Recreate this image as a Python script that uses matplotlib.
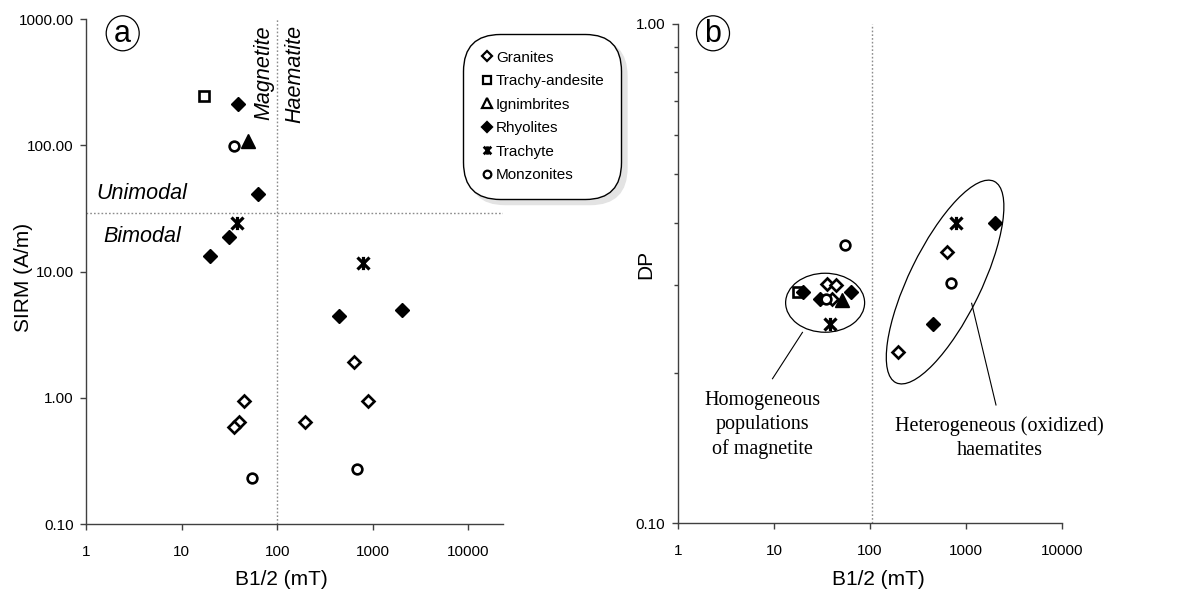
import matplotlib
matplotlib.use('Agg')

import numpy as np
import matplotlib.pyplot as plt
from matplotlib.path import Path
from matplotlib.lines import Line2D
from matplotlib.patches import Ellipse
from matplotlib.transforms import IdentityTransform
from matplotlib.ticker import FixedLocator, FuncFormatter, NullFormatter

plt.rcParams['font.family'] = ['Liberation Sans', 'DejaVu Sans']

# ---- panel (a): B1/2 (mT) vs SIRM (A/m) ----
a_gran_b = [44.8, 39.7, 34.9, 196, 640, 891]
a_gran_y = [0.947, 0.641, 0.592, 0.641, 1.93, 0.95]
a_tand_b = [17.3]
a_tand_y = [245]
a_ign_b = [50]
a_ign_y = [108]
a_rhy_b = [39.3, 62.8, 31.2, 19.9, 443, 2022]
a_rhy_y = [211, 41.4, 18.9, 13.2, 4.48, 4.97]
a_trach_b = [38.4, 789]
a_trach_y = [24.2, 11.7]
a_monz_b = [34.9, 54.7, 688]
a_monz_y = [98, 0.233, 0.272]

# ---- panel (b): B1/2 (mT) vs DP ----
b_gran_b = [35.6, 44.6, 40.6, 641, 198]
b_gran_y = [0.301, 0.300, 0.281, 0.350, 0.220]
b_tand_b = [17.8]
b_tand_y = [0.290]
b_ign_b = [51]
b_ign_y = [0.280]
b_rhy_b = [20.3, 63.9, 30.4, 451, 2006]
b_rhy_y = [0.290, 0.290, 0.281, 0.250, 0.400]
b_trach_b = [38, 789]
b_trach_y = [0.250, 0.400]
b_monz_b = [35.1, 55.3, 700]
b_monz_y = [0.281, 0.360, 0.302]

series = ['Granites', 'Trachy-andesite', 'Ignimbrites', 'Rhyolites', 'Trachyte', 'Monzonites']
x_ticks = [1, 10, 100, 1000, 10000]

# X-with-vertical-bar marker (Excel "star")
star = Path([(-1, -1), (1, 1), (-1, 1), (1, -1), (0, -1.1), (0, 1.1)],
            [Path.MOVETO, Path.LINETO] * 3)

styles = {
    'Granites': dict(marker='D', ms=6.5, mfc='white', mec='black', mew=1.9),
    'Trachy-andesite': dict(marker='s', ms=7, mfc='white', mec='black', mew=1.9),
    'Ignimbrites': dict(marker='^', ms=9.5, mfc='black', mec='black', mew=1),
    'Rhyolites': dict(marker='D', ms=7.5, mfc='black', mec='black', mew=1),
    'Trachyte': dict(marker=star, ms=9.5, mfc='none', mec='black', mew=2.3),
    'Monzonites': dict(marker='o', ms=7, mfc='white', mec='black', mew=1.9),
}

fig = plt.figure(figsize=(11.88, 5.95), dpi=100)
ax1 = fig.add_axes([0.0724, 0.1193, 0.351, 0.8487])
ax2 = fig.add_axes([0.5707, 0.121, 0.3232, 0.8387])

axis_col = '#404040'
for ax in (ax1, ax2):
    ax.set_xscale('log')
    ax.set_yscale('log')
    ax.spines['top'].set_visible(False)
    ax.spines['right'].set_visible(False)
    for s in ('left', 'bottom'):
        ax.spines[s].set_color(axis_col)
        ax.spines[s].set_linewidth(1.0)
    ax.xaxis.set_major_locator(FixedLocator(x_ticks))
    ax.xaxis.set_minor_formatter(NullFormatter())
    ax.xaxis.set_major_formatter(FuncFormatter(lambda v, p: '%d' % round(v)))
    ax.yaxis.set_major_formatter(FuncFormatter(lambda v, p: '%.2f' % v))
    ax.tick_params(axis='both', which='both', direction='out', color=axis_col,
                   labelsize=11, labelcolor='black')
    ax.tick_params(axis='both', which='major', length=4, width=1)
    ax.tick_params(axis='both', which='minor', length=3, width=1)
    ax.tick_params(axis='x', pad=11)
    ax.tick_params(axis='y', pad=5)

# panel a axes
ax1.set_xlim(1, 23000)
ax1.set_ylim(0.1, 1000)
ax1.xaxis.set_minor_locator(FixedLocator([]))
ax1.yaxis.set_major_locator(FixedLocator([0.1, 1, 10, 100, 1000]))
ax1.yaxis.set_minor_locator(FixedLocator([]))

# panel b axes
ax2.set_xlim(1, 10000)
ax2.set_ylim(0.1, 1.0)
ax2.xaxis.set_minor_locator(FixedLocator([]))
ax2.yaxis.set_major_locator(FixedLocator([0.1, 1.0]))
ax2.yaxis.set_minor_locator(FixedLocator([0.2, 0.3, 0.4, 0.5, 0.6, 0.7, 0.8, 0.9]))
ax2.yaxis.set_minor_formatter(NullFormatter())

# guide lines
dot = dict(color='#8c8c8c', lw=1.0, ls=(0, (1.2, 1.5)), zorder=1)
ax1.axvline(100, **dot)
ax1.axhline(29, **dot)
ax2.axvline(105, **dot)

data_a = [(a_gran_b, a_gran_y), (a_tand_b, a_tand_y), (a_ign_b, a_ign_y),
          (a_rhy_b, a_rhy_y), (a_trach_b, a_trach_y), (a_monz_b, a_monz_y)]
data_b = [(b_gran_b, b_gran_y), (b_tand_b, b_tand_y), (b_ign_b, b_ign_y),
          (b_rhy_b, b_rhy_y), (b_trach_b, b_trach_y), (b_monz_b, b_monz_y)]

for name, (xs, ys) in zip(series, data_a):
    ax1.plot(xs, ys, ls='none', zorder=3, clip_on=False, **styles[name])
for name, (xs, ys) in zip(series, data_b):
    ax2.plot(xs, ys, ls='none', zorder=3, clip_on=False, **styles[name])

# labels
ax1.set_xlabel('B1/2 (mT)', fontsize=15)
ax1.set_ylabel('SIRM (A/m)', fontsize=15)
ax2.set_xlabel('B1/2 (mT)', fontsize=15)
ax2.set_ylabel('DP', fontsize=15)
ax1.xaxis.set_label_coords(0.469, -0.092)
ax2.xaxis.set_label_coords(0.523, -0.095)
ax1.yaxis.set_label_coords(-0.128, 0.488)
ax2.yaxis.set_label_coords(-0.06, 0.519)

# annotations panel a
it = dict(fontsize=15.5, style='italic')
ax1.text(71.9, 896, 'Magnetite', rotation=90, ha='center', va='top', **it)
ax1.text(154.4, 896, 'Haematite', rotation=90, ha='center', va='top', **it)
ax1.text(3.86, 41.6, 'Unimodal', ha='center', va='center', **it)
ax1.text(3.86, 19.1, 'Bimodal', ha='center', va='center', **it)

# legend
handles = []
for name in series:
    st = dict(styles[name])
    st['ms'] = 5.5
    st['mew'] = 1.6
    if name == 'Ignimbrites':
        st['mfc'] = 'white'
        st['ms'] = 6.5
    if name == 'Trachyte':
        st['ms'] = 6
        st['mew'] = 2
    handles.append(Line2D([], [], ls='none', label=name, **st))
leg = ax1.legend(handles=handles, loc='upper left',
                 bbox_to_anchor=(463 / 1188, 1 - 34 / 595),
                 bbox_transform=fig.transFigure, borderaxespad=0,
                 fontsize=11, frameon=True, fancybox=True,
                 borderpad=1.1, handlelength=0.9, handletextpad=0.15,
                 labelspacing=0.62,
                 shadow={'ox': 4, 'oy': -4, 'facecolor': '#e3e3e3',
                         'edgecolor': '#e3e3e3', 'alpha': 1})
frame = leg.get_frame()
frame.set_edgecolor('black')
frame.set_linewidth(1.0)
frame.set_boxstyle('round', pad=0, rounding_size=2.4)
leg.set_zorder(5)

# panel b annotations
ax2.text(7.52, 0.157, 'Homogeneous\npopulations\nof magnetite',
         ha='center', va='center', fontsize=14.5, family='Liberation Serif',
         linespacing=1.35)
ax2.text(2224, 0.148, 'Heterogeneous (oxidized)\nhaematites',
         ha='center', va='center', fontsize=14.5, family='Liberation Serif',
         linespacing=1.35, clip_on=False)
ax2.plot([9.65, 19.8], [0.1946, 0.241], color='black', lw=0.8, clip_on=False)
ax2.plot([2055, 1146], [0.1724, 0.2756], color='black', lw=0.8, clip_on=False)

# ellipses around the groups (drawn in pixel space so they stay true ellipses)
c1 = ax2.transData.transform((34.1, 0.2763))
c2 = ax2.transData.transform((606, 0.304))
fig.add_artist(Ellipse(c1, 79, 59, angle=0, transform=IdentityTransform(),
                       fill=False, ec='black', lw=0.9))
fig.add_artist(Ellipse(c2, 224, 72, angle=64, transform=IdentityTransform(),
                       fill=False, ec='black', lw=0.9))

# circled panel letters
for cx, letter in ((122.7, 'a'), (713, 'b')):
    fig.add_artist(Ellipse((cx / 1188, 1 - 33.3 / 595), 33 / 1188, 35 / 595,
                           transform=fig.transFigure, fill=False, ec='black', lw=0.9))
    fig.text(cx / 1188, 1 - 33.8 / 595, letter, ha='center', va='center', fontsize=22)

fig.savefig('out.png', dpi=100)
